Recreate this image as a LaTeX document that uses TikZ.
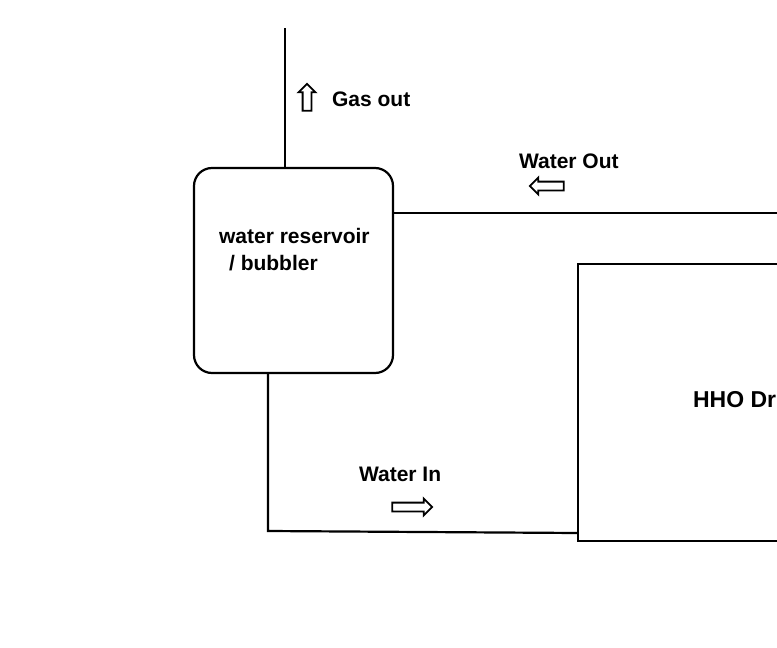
\documentclass[tikz,border=0pt]{standalone}
\usepackage{fontspec}
\setmainfont{Liberation Sans}
\usetikzlibrary{shapes.arrows}
\begin{document}
\begin{tikzpicture}[x=1pt,y=-1pt,
  line width=2.2pt,
  lbl/.style={font=\bfseries\fontsize{21}{24}\selectfont,anchor=west,inner sep=0},
  harrow/.style={single arrow,draw,line width=1.8pt,minimum height=34pt,minimum width=16pt,single arrow head extend=4pt,single arrow head indent=0pt,inner sep=3.5pt}]
\useasboundingbox (0,0) rectangle (777,648);
\begin{scope}
\clip (0,0) rectangle (777,648);
\draw[rounded corners=18pt] (194,168) rectangle (393,373);
\node[coordinate] (gtop) at (285,28) {};
\node[coordinate] (gbot) at (285,168) {};
\draw (gtop) -- (gbot);
\node[coordinate] (wo1) at (393,213) {};
\node[coordinate] (wo2) at (780,213) {};
\draw (wo1) -- (wo2);
\draw (578,264) rectangle (790,541);
\end{scope}
\node[font=\bfseries\fontsize{23}{26}\selectfont,anchor=west,inner sep=0] (hho) at (692,400) {HHO Dr};
\node[coordinate] (wi1) at (268,373) {};
\node[coordinate] (wi2) at (268,531) {};
\node[coordinate] (wi3) at (578,533) {};
\draw (wi1) -- (wi2) -- (wi3);
\node[lbl] (t1) at (218,236) {water reservoir};
\node[lbl] (t2) at (228,263) {/ bubbler};
\node[lbl] (gas) at (331,99) {Gas out};
\node[lbl] (wout) at (518,161) {Water Out};
\node[lbl] (win) at (358,474) {Water In};
\node[harrow,shape border rotate=90,minimum height=27pt] (a1) at (307,99.5) {};
\node[harrow,shape border rotate=180] (a2) at (549,186) {};
\node[harrow,minimum height=40pt] (a3) at (410,507) {};
\end{tikzpicture}
\end{document}
